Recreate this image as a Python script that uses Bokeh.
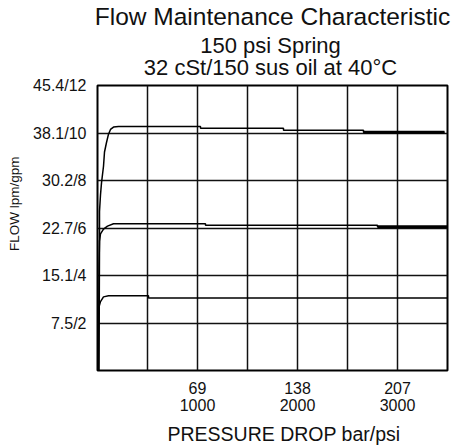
from bokeh.plotting import figure
from bokeh.models import Range1d, FixedTicker, Title, LinearAxis
from bokeh.embed import file_html
from bokeh.resources import INLINE

# ---- data (psi, gpm) ----
top_psi = [15, 20, 20, 30, 40, 60, 70, 90, 110, 130, 160, 210, 1030, 1030, 1860, 1860, 2660, 2660, 3470]
top_gpm = [0, 5.3, 6.7, 7.4, 7.9, 8.6, 9.2, 9.6, 9.95, 10.15, 10.25, 10.27, 10.27, 10.2, 10.2, 10.12, 10.12, 10.03, 10.03]
top_end_psi = [2660, 3470]
top_end_gpm = [10.03, 10.03]

mid_psi = [10, 15, 20, 30, 60, 100, 160, 1080, 1080, 2800, 2800, 3500]
mid_gpm = [0, 4.4, 5.45, 5.75, 5.95, 6.08, 6.18, 6.18, 6.12, 6.12, 6.05, 6.05]
mid_end_psi = [2800, 3500]
mid_end_gpm = [6.05, 6.05]

low_psi = [5, 10, 30, 60, 110, 510, 510, 3500]
low_gpm = [0, 2.6, 2.9, 3.1, 3.15, 3.15, 3.05, 3.05]

x_grid = [0, 500, 1000, 1500, 2000, 2500, 3000, 3500]
x_labels = {1000: "69\n1000", 2000: "138\n2000", 3000: "207\n3000"}
y_grid = [0, 2, 4, 6, 8, 10, 12]
y_labels = {2: "7.5/2", 4: "15.1/4", 6: "22.7/6", 8: "30.2/8", 10: "38.1/10", 12: "45.4/12"}

title_lines = ["Flow Maintenance Characteristic", "150 psi Spring", "32 cSt/150 sus oil at 40°C"]
x_title = "PRESSURE DROP bar/psi"
y_title = "FLOW lpm/gpm"

FONT = "Liberation Sans"

p = figure(width=451, height=448, output_backend="svg", toolbar_location=None,
           x_range=Range1d(0, 3500), y_range=Range1d(0, 12),
           min_border_left=97, min_border_right=4, min_border_top=84, min_border_bottom=75)
p.outline_line_color = "black"
p.outline_line_width = 2
p.background_fill_color = "white"
p.border_fill_color = "white"

p.xaxis.ticker = FixedTicker(ticks=x_grid)
p.yaxis.ticker = FixedTicker(ticks=y_grid)
p.xaxis.major_label_overrides = {t: x_labels.get(t, "") for t in x_grid}
p.yaxis.major_label_overrides = {t: y_labels.get(t, "") for t in y_grid}
for ax in (p.xaxis, p.yaxis):
    ax.axis_line_color = None
    ax.major_tick_line_color = None
    ax.minor_tick_line_color = None
    ax.major_tick_in = 0
    ax.major_tick_out = 0
    ax.major_label_text_font = FONT
    ax.major_label_text_font_size = "16px"
    ax.major_label_text_color = "#111111"
p.xaxis.major_label_text_line_height = 1.0
p.xaxis.major_label_standoff = 9
p.yaxis.major_label_standoff = 11

p.xgrid.grid_line_color = "#111111"
p.ygrid.grid_line_color = "#111111"
p.xgrid.grid_line_width = 1.5
p.ygrid.grid_line_width = 1.5

p.line(top_psi, top_gpm, line_color="black", line_width=1.5)
p.line(top_end_psi, top_end_gpm, line_color="black", line_width=3)
p.line(mid_psi, mid_gpm, line_color="black", line_width=1.5)
p.line(mid_end_psi, mid_end_gpm, line_color="black", line_width=3)
p.line(low_psi, low_gpm, line_color="black", line_width=1.5)

# subtitle lines 2 and 3: a label-only axis above the frame (lines are centred)
sub_pos = 1730
sub_axis = LinearAxis(ticker=FixedTicker(ticks=[sub_pos]),
                      major_label_overrides={sub_pos: title_lines[1] + "\n" + title_lines[2]})
sub_axis.axis_line_color = None
sub_axis.major_tick_line_color = None
sub_axis.minor_tick_line_color = None
sub_axis.major_tick_in = 0
sub_axis.major_tick_out = 0
sub_axis.major_label_standoff = 6
sub_axis.major_label_text_font = FONT
sub_axis.major_label_text_font_size = "22px"
sub_axis.major_label_text_line_height = 0.86
sub_axis.major_label_text_color = "#111111"
p.add_layout(sub_axis, "above")

p.add_layout(Title(text=title_lines[0], align="center", vertical_align="bottom",
                   text_font=FONT, text_font_size="24.5px", text_font_style="normal",
                   text_color="#111111", standoff=0), "above")

p.add_layout(Title(text=x_title, align="left", offset=70, text_font=FONT, text_font_size="19.5px",
                   text_font_style="normal", text_color="#111111", standoff=8), "below")
p.add_layout(Title(text=y_title, align="right", offset=71, vertical_align="top", text_font=FONT,
                   text_font_size="13.5px", text_font_style="normal", text_color="#111111",
                   standoff=13), "left")

open("out.html", "w").write(file_html(p, INLINE))
